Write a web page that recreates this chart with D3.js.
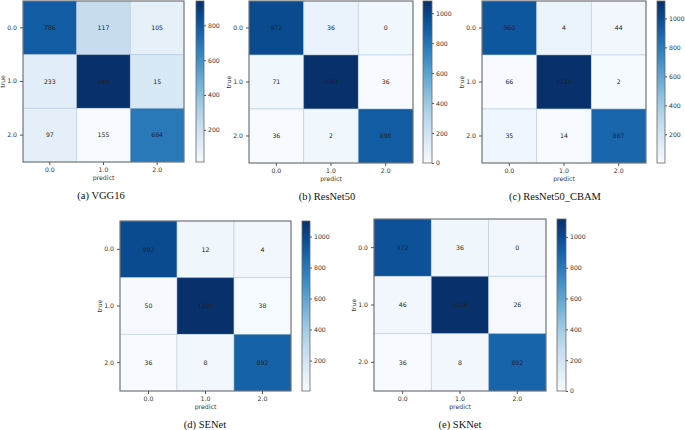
<!DOCTYPE html>
<html>
<head>
<meta charset="utf-8">
<script src="https://cdn.jsdelivr.net/npm/d3@7"></script>
<style>
  body { margin: 0; background: #fff; }
  svg { display: block; }
  .tick text { font-family: "DejaVu Sans", sans-serif; font-size: 6.2px; fill: #333; }
</style>
</head>
<body>
<svg id="chart" width="685" height="430"></svg>
<script>
// class labels on both axes
const classes = ["0.0", "1.0", "2.0"];

// confusion matrices, rows = true, cols = predict
const vgg16 = [[786, 117, 105], [233, 940, 15], [97, 155, 684]];
const resnet50 = [[972, 36, 0], [71, 1081, 36], [36, 2, 898]];
const resnet50Cbam = [[960, 4, 44], [66, 1120, 2], [35, 14, 887]];
const senet = [[992, 12, 4], [50, 1100, 38], [36, 8, 892]];
const sknet = [[972, 36, 0], [46, 1116, 26], [36, 8, 892]];

const captions = ["(a) VGG16", "(b) ResNet50", "(c) ResNet50_CBAM", "(d) SENet", "(e) SKNet"];

const panels = [
    { id: "a", values: vgg16,        hx: 23,  hy: 1,   hw: 161, hh: 161, cbx: 196, cbw: 8, capx: 101 },
    { id: "b", values: resnet50,     hx: 249, hy: 1,   hw: 164, hh: 162, cbx: 423, cbw: 9, capx: 327 },
    { id: "c", values: resnet50Cbam, hx: 482, hy: 1,   hw: 164, hh: 162, cbx: 657, cbw: 8, capx: 555 },
    { id: "d", values: senet,        hx: 120, hy: 221, hw: 171, hh: 170, cbx: 302, cbw: 8, capx: 205 },
    { id: "e", values: sknet,        hx: 374, hy: 219, hw: 172, hh: 172, cbx: 557, cbw: 9, capx: 460 }
];

const svg = d3.select("#chart");
const defs = svg.append("defs");

panels.forEach((p, i) => {
    const flat = p.values.flat();
    const lo = d3.min(flat), hi = d3.max(flat);
    const color = d3.scaleSequential(d3.interpolateBlues).domain([lo, hi]);

    const x = d3.scaleBand().domain(classes).range([p.hx, p.hx + p.hw]);
    const y = d3.scaleBand().domain(classes).range([p.hy, p.hy + p.hh]);

    // the image in the source is drawn from the transposed matrix, the numbers are not
    const cells = [];
    p.values.forEach((row, r) => row.forEach((v, c) => cells.push({ r, c, v, shade: p.values[c][r] })));

    const g = svg.append("g").attr("class", "panel-" + p.id);

    g.selectAll("rect.cell")
        .data(cells)
        .join("rect")
        .attr("class", "cell")
        .attr("x", d => x(classes[d.c]))
        .attr("y", d => y(classes[d.r]))
        .attr("width", x.bandwidth())
        .attr("height", y.bandwidth())
        .style("fill", d => color(d.shade))
        .style("stroke", "rgba(170,190,215,0.55)")
        .style("stroke-width", 0.8);

    g.selectAll("text.val")
        .data(cells)
        .join("text")
        .attr("class", "val")
        .attr("x", d => x(classes[d.c]) + x.bandwidth() / 2)
        .attr("y", d => y(classes[d.r]) + y.bandwidth() / 2)
        .attr("dy", "0.35em")
        .attr("text-anchor", "middle")
        .style("font-family", "DejaVu Sans, sans-serif")
        .style("font-size", "6.2px")
        .style("fill", "#222")
        .text(d => d.v);

    // frame
    g.append("rect")
        .attr("x", p.hx).attr("y", p.hy)
        .attr("width", p.hw).attr("height", p.hh)
        .style("fill", "none").style("stroke", "#666").style("stroke-width", 1);

    const xAxis = g.append("g")
        .attr("transform", `translate(0,${p.hy + p.hh})`)
        .call(d3.axisBottom(x).tickSize(3).tickPadding(3));
    xAxis.select(".domain").remove();
    xAxis.selectAll(".tick line").style("stroke", "#555");

    const yAxis = g.append("g")
        .attr("transform", `translate(${p.hx},0)`)
        .call(d3.axisLeft(y).tickSize(3).tickPadding(3));
    yAxis.select(".domain").remove();
    yAxis.selectAll(".tick line").style("stroke", "#555");

    g.append("text")
        .attr("x", p.hx + p.hw / 2)
        .attr("y", p.hy + p.hh + 18)
        .attr("text-anchor", "middle")
        .style("font-family", "DejaVu Sans, sans-serif")
        .style("font-size", "6.2px")
        .style("fill", "#333")
        .text("predict");

    g.append("text")
        .attr("transform", `translate(${p.hx - 20},${p.hy + p.hh / 2}) rotate(-90)`)
        .attr("dy", "0.35em")
        .attr("text-anchor", "middle")
        .style("font-family", "DejaVu Sans, sans-serif")
        .style("font-size", "6.2px")
        .style("fill", "#333")
        .text("true");

    // colorbar
    const gradId = "grad-" + p.id;
    const grad = defs.append("linearGradient")
        .attr("id", gradId)
        .attr("x1", 0).attr("y1", 1).attr("x2", 0).attr("y2", 0);
    d3.range(0, 1.0001, 0.1).forEach(t => {
        grad.append("stop").attr("offset", t).attr("stop-color", d3.interpolateBlues(t));
    });

    g.append("rect")
        .attr("x", p.cbx).attr("y", p.hy)
        .attr("width", p.cbw).attr("height", p.hh)
        .style("fill", `url(#${gradId})`)
        .style("stroke", "#666").style("stroke-width", 0.8);

    const cb = d3.scaleLinear().domain([lo, hi]).range([p.hy + p.hh, p.hy]);
    const cbAxis = g.append("g")
        .attr("transform", `translate(${p.cbx + p.cbw},0)`)
        .call(d3.axisRight(cb).ticks(5).tickFormat(d3.format("d")).tickSize(2).tickPadding(2));
    cbAxis.select(".domain").remove();
    cbAxis.selectAll(".tick line").style("stroke", "#555");

    g.append("text")
        .attr("x", p.capx)
        .attr("y", p.hy + p.hh + 37)
        .attr("text-anchor", "middle")
        .style("font-family", "Liberation Serif, serif")
        .style("font-size", "10.5px")
        .style("fill", "#111")
        .text(captions[i]);
});
</script>
</body>
</html>
